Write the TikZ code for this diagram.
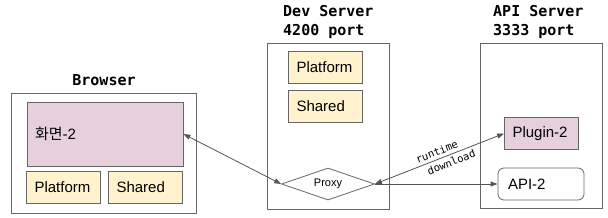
\documentclass[tikz,border=0pt]{standalone}
\usepackage{fontspec}
\setmainfont{Liberation Sans}
\setmonofont{DejaVu Sans Mono}
\newfontfamily\krfont{Noto Sans CJK KR}
\usetikzlibrary{shapes.geometric, arrows.meta}
\definecolor{pinkfill}{HTML}{E6D0DE}
\definecolor{yellowfill}{HTML}{FFF2CC}
\definecolor{edgegray}{HTML}{666666}
\definecolor{linegray}{HTML}{555555}

\begin{document}
\begin{tikzpicture}[
    x=1pt, y=-1pt,
    >={Triangle[length=7pt, width=5pt]},
    panel/.style={draw=edgegray, line width=0.8pt, inner sep=0pt},
    title/.style={font=\ttfamily\bfseries\fontsize{15}{19}\selectfont, align=left, inner sep=0pt},
    module/.style={
      draw=edgegray, line width=0.8pt, align=left, inner xsep=8pt, inner ysep=0pt,
      text width=58pt, minimum height=32pt, font=\fontsize{15}{18}\selectfont
    },
    shared/.style={module, fill=yellowfill},
    plugin/.style={module, fill=pinkfill},
    link/.style={draw=linegray, line width=0.8pt},
    linklabel/.style={sloped, inner sep=3pt, font=\ttfamily\fontsize{10.5}{12}\selectfont},
  ]
    \useasboundingbox (0,0) rectangle (608,217);

    % browser
    \node[title] (browserTitle) at (104,80) {Browser};
    \node[panel, minimum width=185pt, minimum height=120pt] (browser) at (103.5,153) {};
    \node[plugin, text width=140pt, minimum height=64pt] (screen) at (105,134) {{\krfont 화면}-2};
    \node[shared] (browserPlatform) at (63.5,187) {Platform};
    \node[shared] (browserShared) at (145.5,187) {Shared};

    % dev server
    \node[title, anchor=north west] (devTitle) at (283,5) {Dev Server\\4200 port};
    \node[panel, minimum width=122pt, minimum height=166pt] (dev) at (328,126) {};
    \node[shared] (devPlatform) at (325.5,67.5) {Platform};
    \node[shared] (devShared) at (325.5,106) {Shared};
    \node[draw=edgegray, line width=0.8pt, fill=white, diamond, aspect=2.9, inner sep=0pt,
      minimum width=93pt, minimum height=32pt, font=\fontsize{11}{13}\selectfont] (proxy) at (328,184) {Proxy};

    % api server
    \node[title, anchor=north west] (apiTitle) at (493,5) {API Server\\3333 port};
    \node[panel, minimum width=122pt, minimum height=165pt] (api) at (541,125.5) {};
    \node[plugin] (plugin) at (541.5,133.5) {Plugin-2};
    \node[module, fill=white, rounded corners=6pt, text width=66pt, inner xsep=10pt] (apiModule) at (541,184) {API-2};

    % connectors
    \draw[link, <->] (screen.east) -- (proxy.west);
    \draw[link, <->] (proxy.east) -- (plugin.west)
      node[linklabel, midway, above] (runtimeLabel) {runtime}
      node[linklabel, pos=0.57, below] (downloadLabel) {download};
    \draw[link, ->] (proxy.east) -- (apiModule.west);
\end{tikzpicture}
\end{document}
